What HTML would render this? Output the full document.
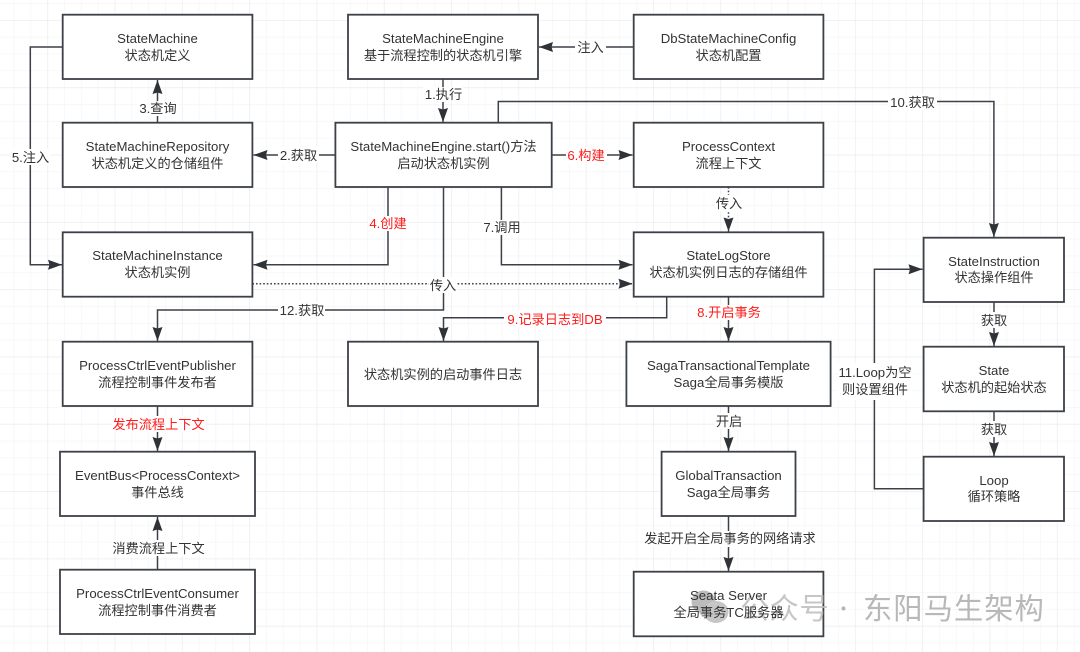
<!DOCTYPE html>
<html lang="zh">
<head>
<meta charset="utf-8">
<title>Diagram</title>
<style>
html,body{margin:0;padding:0;background:#fff;width:1080px;height:652px;overflow:hidden}
svg{display:block;filter:blur(.3px)}
text{font-family:"Liberation Sans","Noto Sans CJK SC",sans-serif;font-size:13.2px;fill:#333;text-anchor:middle}
.r{fill:#ff1a1a}
.box{fill:#fff;stroke:#3c4148;stroke-width:1.8}
.ln{fill:none;stroke:#3c4148;stroke-width:1.5;marker-end:url(#a)}
.dot{fill:none;stroke:#3c4148;stroke-width:1.5;stroke-dasharray:1.6 2;marker-end:url(#a)}
.bg{fill:#fff}
.wm{font-size:29.3px;letter-spacing:1px;text-anchor:start;fill:#b8b8b8}
.wm2{font-size:29.3px;text-anchor:start;fill:#bdbdbd;opacity:.85}
</style>
</head>
<body>
<svg width="1080" height="652" viewBox="0 0 1080 652" xmlns="http://www.w3.org/2000/svg">
<defs>
<pattern id="minor" x="47.3" y="20" width="16.83" height="16.83" patternUnits="userSpaceOnUse">
<path d="M0 0V16.83M0 0H16.83" stroke="#f4f4f4" stroke-width="1.2" fill="none"/>
</pattern>
<pattern id="major" x="47.3" y="20" width="67.3" height="67.3" patternUnits="userSpaceOnUse">
<path d="M0 0V67.3M0 0H67.3" stroke="#eeeeee" stroke-width="1.4" fill="none"/>
</pattern>
<marker id="a" markerUnits="userSpaceOnUse" markerWidth="16" markerHeight="14" refX="14" refY="6.5" orient="auto">
<path d="M0 1.5L14 6.5L0 11.5L1.5 6.5Z" fill="#2f3338"/>
</marker>
</defs>
<rect width="1080" height="652" fill="#fff"/>
<rect width="1080" height="652" fill="url(#minor)"/>
<rect width="1080" height="652" fill="url(#major)"/>

<!-- connectors -->
<path class="ln" d="M63 47H30.3V264.7H62"/>
<path class="ln" d="M157.5 122.7V80"/>
<path class="ln" d="M443 79V122"/>
<path class="ln" d="M633.7 47H539"/>
<path class="ln" d="M335.4 155H253.5"/>
<path class="ln" d="M388 187V264.7H253.5"/>
<path class="ln" d="M443.5 187V310H157.5V341"/>
<path class="ln" d="M501.4 187V264.7H632.5"/>
<path class="ln" d="M498.3 122.7V101.5H993.9V237"/>
<path class="ln" d="M551.7 155H632.5"/>
<path class="dot" d="M728.5 187V231.5"/>
<path class="dot" d="M252.4 283.7H632.5"/>
<path class="ln" d="M666.7 296.7V317.7H443.5V341"/>
<path class="ln" d="M728.5 296.7V341"/>
<path class="ln" d="M728.5 406V451"/>
<path class="ln" d="M728.5 516V571"/>
<path class="ln" d="M157.5 406V451"/>
<path class="ln" d="M157.5 569.7V517"/>
<path class="ln" d="M923.6 488.7H874.4V269.3H922.5"/>
<path class="ln" d="M994 302V346"/>
<path class="ln" d="M994 411.3V456"/>

<!-- boxes -->
<rect class="box" x="62.7" y="14.7" width="189.7" height="64.3"/>
<rect class="box" x="62.7" y="122.7" width="189.7" height="64.3"/>
<rect class="box" x="62.7" y="232.3" width="189.7" height="64.4"/>
<rect class="box" x="348" y="14.7" width="190" height="64.3"/>
<rect class="box" x="335.4" y="122.7" width="216.3" height="64.3"/>
<rect class="box" x="633.7" y="14.7" width="189.7" height="64.3"/>
<rect class="box" x="633.7" y="122.7" width="189.7" height="64.3"/>
<rect class="box" x="633.7" y="232.3" width="189.7" height="64.4"/>
<rect class="box" x="923.6" y="237.7" width="140.4" height="64.3"/>
<rect class="box" x="923.6" y="346.7" width="140.4" height="64.6"/>
<rect class="box" x="923.6" y="456.7" width="140.4" height="64.3"/>
<rect class="box" x="62.7" y="341.7" width="189.7" height="64.3"/>
<rect class="box" x="60" y="451.7" width="195" height="64.3"/>
<rect class="box" x="60" y="569.7" width="195" height="64.3"/>
<rect class="box" x="348" y="341.7" width="190" height="64.3"/>
<rect class="box" x="626.4" y="341.7" width="204.2" height="64.3"/>
<rect class="box" x="661.6" y="451.7" width="133.9" height="64.3"/>
<rect class="box" x="633.7" y="571.7" width="189.7" height="64.6"/>

<!-- label backgrounds -->
<rect class="bg" x="11" y="149" width="39" height="16"/>
<rect class="bg" x="137" y="101" width="41" height="15"/>
<rect class="bg" x="423" y="87" width="40" height="15"/>
<rect class="bg" x="575" y="39" width="31" height="16"/>
<rect class="bg" x="278" y="147" width="41" height="16"/>
<rect class="bg" x="368" y="216" width="40" height="15"/>
<rect class="bg" x="278" y="302" width="47" height="16"/>
<rect class="bg" x="482" y="220" width="39" height="15"/>
<rect class="bg" x="888" y="94" width="49" height="16"/>
<rect class="bg" x="566" y="147" width="41" height="16"/>
<rect class="bg" x="715" y="195" width="28" height="17"/>
<rect class="bg" x="429" y="277" width="28" height="16"/>
<rect class="bg" x="504" y="311" width="102" height="16"/>
<rect class="bg" x="696" y="305" width="66" height="15"/>
<rect class="bg" x="715" y="413" width="28" height="16"/>
<rect class="bg" x="643" y="531" width="174" height="16"/>
<rect class="bg" x="112" y="416" width="93" height="16"/>
<rect class="bg" x="112" y="540" width="93" height="16"/>
<rect class="bg" x="838" y="363" width="74" height="37"/>
<rect class="bg" x="981" y="312" width="26" height="16"/>
<rect class="bg" x="981" y="421" width="26" height="16"/>

<!-- watermark beneath box text -->
<ellipse cx="703.5" cy="602" rx="12" ry="11.5" fill="#bcbcbc"/>
<ellipse cx="716" cy="612" rx="12.5" ry="11" fill="#c6c6c6"/>
<text class="wm2" x="740" y="619">公</text>
<text class="wm2" x="769.5" y="619">众</text>
<text class="wm2" x="799.5" y="619">号</text>
<circle cx="843.5" cy="608.5" r="2" fill="#b4b4b4"/>
<text class="wm" x="863" y="619">东阳马生架构</text>

<!-- box text -->
<text x="157.5" y="43">StateMachine</text><text x="157.5" y="60">状态机定义</text>
<text x="157.5" y="151">StateMachineRepository</text><text x="157.5" y="168">状态机定义的仓储组件</text>
<text x="157.5" y="260">StateMachineInstance</text><text x="157.5" y="277">状态机实例</text>
<text x="443" y="43">StateMachineEngine</text><text x="443" y="60">基于流程控制的状态机引擎</text>
<text x="443.5" y="151">StateMachineEngine.start()方法</text><text x="443.5" y="168">启动状态机实例</text>
<text x="728.5" y="43">DbStateMachineConfig</text><text x="728.5" y="60">状态机配置</text>
<text x="728.5" y="151">ProcessContext</text><text x="728.5" y="168">流程上下文</text>
<text x="728.5" y="260">StateLogStore</text><text x="728.5" y="277">状态机实例日志的存储组件</text>
<text x="994" y="266">StateInstruction</text><text x="994" y="282">状态操作组件</text>
<text x="994" y="375">State</text><text x="994" y="392">状态机的起始状态</text>
<text x="994" y="485">Loop</text><text x="994" y="501">循环策略</text>
<text x="157.5" y="370">ProcessCtrlEventPublisher</text><text x="157.5" y="387">流程控制事件发布者</text>
<text x="157.5" y="480">EventBus&lt;ProcessContext&gt;</text><text x="157.5" y="497">事件总线</text>
<text x="157.5" y="598">ProcessCtrlEventConsumer</text><text x="157.5" y="615">流程控制事件消费者</text>
<text x="443" y="379">状态机实例的启动事件日志</text>
<text x="728.5" y="370">SagaTransactionalTemplate</text><text x="728.5" y="387">Saga全局事务模版</text>
<text x="728.5" y="480">GlobalTransaction</text><text x="728.5" y="497">Saga全局事务</text>
<text x="728.5" y="600">Seata Server</text><text x="728.5" y="617">全局事务TC服务器</text>

<!-- connector labels -->
<text x="30.5" y="162">5.注入</text>
<text x="158" y="113">3.查询</text>
<text x="443.5" y="99">1.执行</text>
<text x="590.5" y="52">注入</text>
<text x="298.5" y="160">2.获取</text>
<text class="r" x="388" y="228">4.创建</text>
<text x="302" y="315">12.获取</text>
<text x="502" y="232">7.调用</text>
<text x="912.5" y="107">10.获取</text>
<text class="r" x="586" y="160">6.构建</text>
<text x="729" y="208">传入</text>
<text x="443" y="290">传入</text>
<text class="r" x="555" y="324">9.记录日志到DB</text>
<text class="r" x="729" y="317">8.开启事务</text>
<text x="729" y="426">开启</text>
<text x="730" y="543">发起开启全局事务的网络请求</text>
<text class="r" x="158.5" y="429">发布流程上下文</text>
<text x="158.5" y="553">消费流程上下文</text>
<text x="875" y="377">11.Loop为空</text><text x="875" y="394">则设置组件</text>
<text x="994" y="325">获取</text>
<text x="994" y="434">获取</text>
</svg>
</body>
</html>
